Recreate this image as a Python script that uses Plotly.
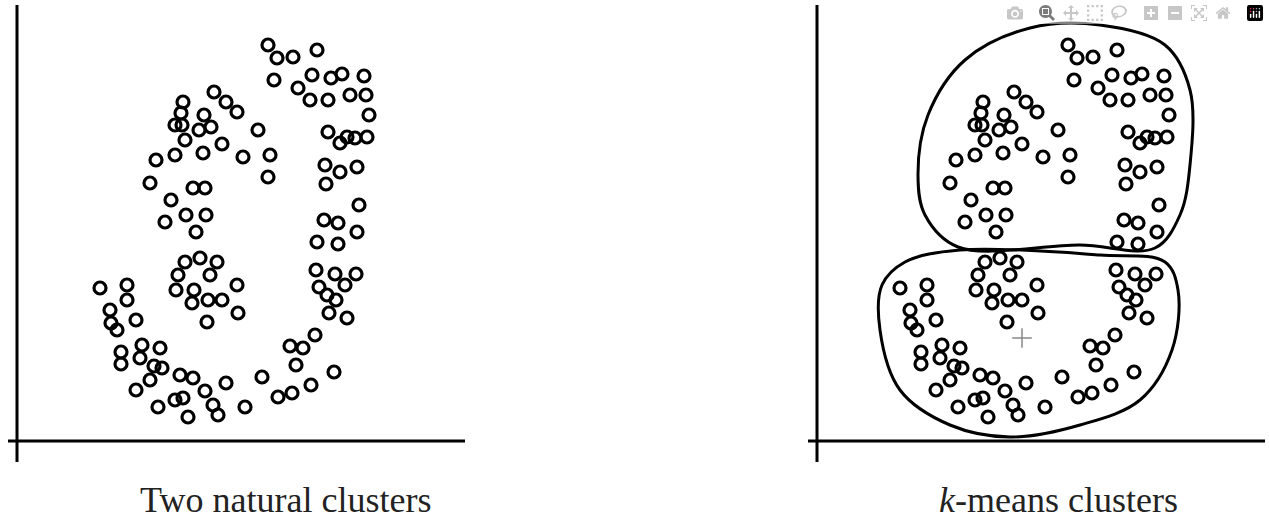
import plotly.graph_objects as go

# point positions in image-pixel-derived data units (x right, y up)
px = [268,277,293,317,274,298,312,331,342,364,350,310,328,366,369,367,328,340,355,
      183,214,226,237,258,243,270,268,156,150,181,175,204,199,185,175,203,222,182,211,
      193,205,171,186,206,165,196,185,200,217,178,210,176,194,208,237,238,222,207,192,
      100,127,110,127,136,117,111,142,121,140,160,162,150,136,121,154,180,158,175,188,
      218,213,205,183,193,226,245,262,278,292,311,334,296,303,290,315,336,347,329,327,
      319,316,335,345,356,338,317,357,338,324,359,326,325,340,357,347]
py = [45,58,57,50,80,88,75,78,74,76,95,100,100,95,115,137,132,143,138,
      102,92,102,112,130,157,155,177,160,183,113,125,115,130,140,155,153,144,125,127,
      188,188,200,215,215,222,232,262,258,262,275,275,290,290,300,285,313,300,322,303,
      288,285,310,300,320,330,323,345,352,358,348,368,380,390,364,366,375,407,400,417,
      415,405,391,398,378,383,407,377,397,393,385,372,365,348,346,335,300,318,313,295,
      287,270,274,285,274,244,242,232,223,220,205,184,165,172,167,137,163]
xs = [p - 17 for p in px]
ys = [441 - p for p in py]

# k-means cluster outlines (same units, right panel)
up_x = [958,925,918,928,965,1030,1100,1165,1190,1190,1180,1155,1080,958]
up_y = [247,215,175,115,60,28,25,45,90,165,215,248,245,247]
lo_x = [960,1100,1165,1178,1172,1140,1080,1010,950,900,880,882,905,960]
lo_y = [250,255,262,290,350,400,425,437,425,390,330,285,262,250]
ux = [p - 817 for p in up_x]; uy = [441 - p for p in up_y]
lx = [p - 817 for p in lo_x]; ly = [441 - p for p in lo_y]
cx = [1022 - 817]; cy = [441 - 338]

W, H = 1269, 526
fig = go.Figure()
mk = dict(symbol="circle-open", size=12, color="black", line=dict(width=3.2, color="black"))
fig.add_trace(go.Scatter(x=xs, y=ys, mode="markers", marker=mk, xaxis="x", yaxis="y", showlegend=False))
fig.add_trace(go.Scatter(x=xs, y=ys, mode="markers", marker=mk, xaxis="x2", yaxis="y2", showlegend=False))
for X, Y in [(ux, uy), (lx, ly)]:
    fig.add_trace(go.Scatter(x=X, y=Y, mode="lines", line=dict(color="black", width=3, shape="spline", smoothing=1.0),
                             xaxis="x2", yaxis="y2", showlegend=False))
fig.add_trace(go.Scatter(x=cx, y=cy, mode="markers", marker=dict(symbol="cross-thin", size=14, line=dict(width=1.5, color="#888")),
                         xaxis="x2", yaxis="y2", showlegend=False))

ydom = [(H - 462) / H, (H - 5) / H]
ax = dict(showgrid=False, zeroline=False, showticklabels=False, ticks="", showline=False)
fig.update_layout(
    width=W, height=H, margin=dict(l=0, r=0, t=0, b=0),
    plot_bgcolor="white", paper_bgcolor="white",
    xaxis=dict(ax, domain=[8 / W, 465 / W], range=[-9, 448]),
    yaxis=dict(ax, domain=ydom, range=[-21, 436]),
    xaxis2=dict(ax, domain=[808 / W, 1265 / W], range=[-9, 448], anchor="y2"),
    yaxis2=dict(ax, domain=ydom, range=[-21, 436], anchor="x2"),
)
shapes = []
for xr, yr in [("x", "y"), ("x2", "y2")]:
    shapes.append(dict(type="line", xref=xr, yref=yr, x0=0, x1=0, y0=-21, y1=436, line=dict(color="black", width=3)))
    shapes.append(dict(type="line", xref=xr, yref=yr, x0=-9, x1=448, y0=0, y1=0, line=dict(color="black", width=3)))
fig.update_layout(shapes=shapes)
fnt = dict(family="Liberation Serif", size=36, color="#222")
fig.add_annotation(x=285 / W, y=(H - 500) / H, xref="paper", yref="paper", text="Two natural clusters",
                   showarrow=False, font=fnt, xanchor="center", yanchor="middle")
fig.add_annotation(x=1058 / W, y=(H - 500) / H, xref="paper", yref="paper", text="<i>k</i>-means clusters",
                   showarrow=False, font=fnt, xanchor="center", yanchor="middle")
fig.write_html("out.html")
with open("out.html", encoding="utf-8") as f:
    html = f.read()
html = html.replace("<head>", "<head><style>body{margin:0;padding:0;}</style>", 1)
with open("out.html", "w", encoding="utf-8") as f:
    f.write(html)
